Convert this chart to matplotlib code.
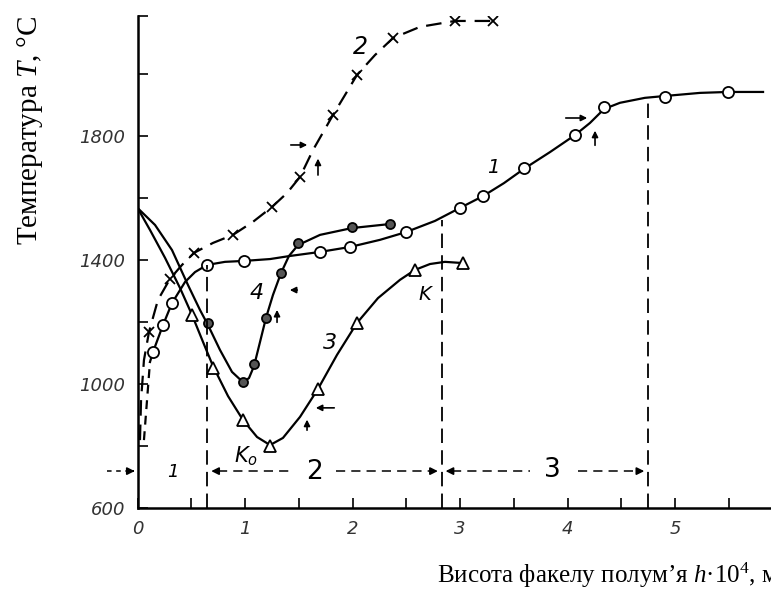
import numpy as np
import matplotlib.pyplot as plt

plt.rcParams['mathtext.fontset'] = 'custom'
plt.rcParams['mathtext.rm'] = 'Liberation Serif'
plt.rcParams['mathtext.it'] = 'Liberation Serif:italic'

# curve 1 (open circles, solid)
c1_dash_x = [0.06, 0.116]
c1_dash_y = [819, 1071]
c1_line_x = [0.116, 0.144, 0.237, 0.321, 0.442, 0.535, 0.647, 0.814, 0.991, 1.233, 1.419, 1.698,
             1.977, 2.256, 2.498, 2.767, 3.0, 3.214, 3.409, 3.595, 3.837, 4.07, 4.209, 4.34,
             4.488, 4.72, 4.907, 5.233, 5.493, 5.819]
c1_line_y = [1071, 1103, 1190, 1261, 1329, 1361, 1384, 1394, 1397, 1403, 1413, 1426,
             1442, 1465, 1490, 1526, 1568, 1606, 1648, 1694, 1748, 1803, 1842, 1887,
             1907, 1923, 1929, 1939, 1942, 1942]
c1_pts_x = [0.144, 0.237, 0.321, 0.647, 0.991, 1.698, 1.977, 2.498, 3.0, 3.214, 3.595, 4.07, 4.34, 4.907, 5.493]
c1_pts_y = [1103, 1190, 1261, 1384, 1397, 1426, 1442, 1490, 1568, 1606, 1697, 1803, 1894, 1926, 1942]

# curve 2 (crosses, dashed)
c2_line_x = [0.023, 0.033, 0.06, 0.107, 0.19, 0.302, 0.414, 0.526, 0.702, 0.888, 1.074, 1.251,
             1.391, 1.512, 1.633, 1.819, 1.93, 2.042, 2.209, 2.377, 2.628, 2.953, 3.307]
c2_line_y = [819, 948, 1077, 1168, 1271, 1339, 1384, 1423, 1455, 1481, 1523, 1571,
             1616, 1668, 1755, 1868, 1932, 1997, 2061, 2116, 2152, 2171, 2171]
c2_pts_x = [0.107, 0.302, 0.526, 0.888, 1.251, 1.512, 1.819, 2.042, 2.377, 2.953, 3.307]
c2_pts_y = [1168, 1339, 1423, 1481, 1571, 1668, 1868, 1997, 2116, 2171, 2171]

# curve 3 (triangles)
c3_line_x = [0.0, 0.116, 0.256, 0.395, 0.507, 0.609, 0.702, 0.842, 0.981, 1.112, 1.233, 1.353,
             1.512, 1.679, 1.856, 2.042, 2.237, 2.442, 2.581, 2.721, 2.86, 3.028]
c3_line_y = [1568, 1497, 1407, 1310, 1223, 1136, 1058, 961, 884, 829, 803, 826,
             894, 984, 1094, 1197, 1277, 1336, 1368, 1387, 1394, 1390]
c3_pts_x = [0.507, 0.702, 0.981, 1.233, 1.679, 2.042, 2.581, 3.028]
c3_pts_y = [1223, 1052, 884, 800, 984, 1197, 1368, 1390]

# curve 4 (dark circles)
c4_line_x = [0.0, 0.163, 0.321, 0.47, 0.581, 0.656, 0.767, 0.879, 0.981, 1.037, 1.084, 1.14,
             1.195, 1.26, 1.335, 1.409, 1.493, 1.698, 1.995, 2.349]
c4_line_y = [1568, 1513, 1432, 1319, 1239, 1190, 1110, 1039, 1006, 1019, 1058, 1136,
             1213, 1287, 1358, 1413, 1448, 1481, 1503, 1516]
c4_pts_x = [0.656, 0.981, 1.084, 1.195, 1.335, 1.493, 1.995, 2.349]
c4_pts_y = [1197, 1006, 1065, 1213, 1358, 1455, 1506, 1516]

# zone borders and their tops
zone_x = [0.65, 2.83, 4.75]
zone_top = [1384, 1530, 1921]
zone_y = 719

fig = plt.figure(figsize=(7.71, 5.97), dpi=100)
ax = fig.add_axes([137.5 / 771, 89 / 597, (771 - 137.5) / 771, 492 / 597])
ax.set_xlim(0, 5.893)
ax.set_ylim(600, 2187)

lw = 1.6
ax.plot(c1_dash_x, c1_dash_y, color='k', lw=lw, ls=(0, (4, 3)))
ax.plot(c1_line_x, c1_line_y, color='k', lw=lw)
ax.plot(c1_pts_x, c1_pts_y, 'o', ms=8, mfc='white', mec='k', mew=1.3)

ax.plot(c2_line_x, c2_line_y, color='k', lw=lw, ls=(0, (7, 4)))
ax.plot(c2_pts_x, c2_pts_y, 'x', ms=7, mec='k', mew=1.3)

ax.plot(c3_line_x, c3_line_y, color='k', lw=lw)
ax.plot(c3_pts_x, c3_pts_y, '^', ms=8, mfc='white', mec='k', mew=1.3)

ax.plot(c4_line_x, c4_line_y, color='k', lw=lw)
ax.plot(c4_pts_x, c4_pts_y, 'o', ms=6.5, mfc='#555555', mec='k', mew=1.3)

# vertical zone borders
for x, top in zip(zone_x, zone_top):
    ax.plot([x, x], [600, top], color='k', lw=1.3, ls=(0, (8, 4)))

# zone arrows
def head(x0, x1):
    ax.annotate('', xy=(x1, zone_y), xytext=(x0, zone_y),
                arrowprops=dict(arrowstyle='-|>', color='k', lw=1.2, mutation_scale=11),
                annotation_clip=False)

ax.plot([-0.28, -0.05], [zone_y, zone_y], color='k', lw=1.1, ls=(0, (3, 3)), clip_on=False)
head(-0.08, 0.0)
ax.plot([0.75, 1.45], [zone_y, zone_y], color='k', lw=1.1, ls=(0, (6, 4)))
head(0.76, 0.66)
ax.plot([1.85, 2.73], [zone_y, zone_y], color='k', lw=1.1, ls=(0, (6, 4)))
head(2.72, 2.82)
ax.plot([2.93, 3.65], [zone_y, zone_y], color='k', lw=1.1, ls=(0, (6, 4)))
head(2.94, 2.84)
ax.plot([4.1, 4.65], [zone_y, zone_y], color='k', lw=1.1, ls=(0, (6, 4)))
head(4.64, 4.74)

ax.text(0.33, 716, '1', fontsize=13, style='italic', ha='center', va='center')
ax.text(1.651, 716, '2', fontsize=19, ha='center', va='center')
ax.text(3.856, 723, '3', fontsize=19, ha='center', va='center')

# small pointer arrows
def pointer(x0, y0, x1, y1):
    ax.annotate('', xy=(x1, y1), xytext=(x0, y0),
                arrowprops=dict(arrowstyle='-|>', color='k', lw=1.2, mutation_scale=9))

pointer(1.40, 1771, 1.605, 1771)
pointer(1.679, 1665, 1.679, 1736)
pointer(1.512, 1303, 1.391, 1303)
pointer(1.298, 1190, 1.298, 1248)
pointer(1.856, 923, 1.633, 923)
pointer(1.577, 842, 1.577, 894)
pointer(3.958, 1858, 4.209, 1858)
pointer(4.256, 1761, 4.256, 1826)

# curve labels
ax.text(3.307, 1697, '1', fontsize=14, style='italic', ha='center', va='center')
ax.text(2.07, 2087, '2', fontsize=17, style='italic', ha='center', va='center')
ax.text(1.79, 1132, '3', fontsize=16, style='italic', ha='center', va='center')
ax.text(1.112, 1294, '4', fontsize=16, style='italic', ha='center', va='center')
ax.text(2.674, 1290, 'K', fontsize=14, style='italic', ha='center', va='center')
ax.text(1.01, 768, r'$\mathdefault{K_o}$', fontsize=15, style='italic', ha='center', va='center')

# axes styling
for s in ['top', 'right']:
    ax.spines[s].set_visible(False)
for s in ['left', 'bottom']:
    ax.spines[s].set_linewidth(1.8)

ax.set_yticks([600, 800, 1000, 1200, 1400, 1600, 1800, 2000, 2187])
ax.set_yticklabels(['600', '', '1000', '', '1400', '', '1800', '', ''])
ax.set_xticks(np.arange(0, 6, 0.5))
ax.set_xticklabels(['0', '', '1', '', '2', '', '3', '', '4', '', '5', ''])
ax.tick_params(direction='in', length=7, width=1.2, labelsize=13, labelcolor='#333333', pad=9)
for lab in ax.get_xticklabels() + ax.get_yticklabels():
    lab.set_fontstyle('italic')

fig.text(30 / 771, 1 - 245 / 597, 'Температура $T$, °C', rotation=90, fontsize=21,
         family='Liberation Serif', ha='center', va='bottom')
fig.text(437 / 771, 1 - 575 / 597, 'Висота факелу полум’я $h$·10$^4$, м', fontsize=18,
         family='Liberation Serif', ha='left', va='center')

fig.savefig('out.png', dpi=100)
